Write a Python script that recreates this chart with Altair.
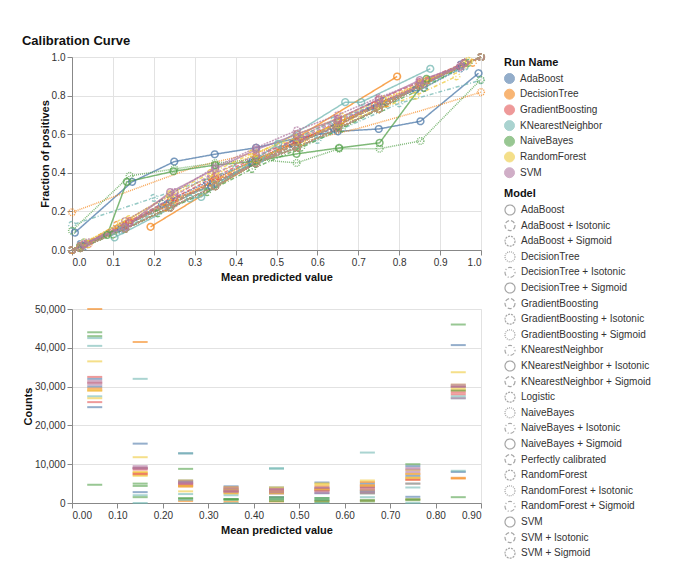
import altair as alt
import pandas as pd

RUNS = ["AdaBoost", "DecisionTree", "GradientBoosting", "KNearestNeighbor",
        "NaiveBayes", "RandomForest", "SVM"]
RUN_COLORS = ["#4c78a8", "#f58518", "#e45756", "#72b7b2", "#54a24b", "#eeca3b", "#b279a2"]

MODELS = ["AdaBoost", "AdaBoost + Isotonic", "AdaBoost + Sigmoid",
          "DecisionTree", "DecisionTree + Isotonic", "DecisionTree + Sigmoid",
          "GradientBoosting", "GradientBoosting + Isotonic", "GradientBoosting + Sigmoid",
          "KNearestNeighbor", "KNearestNeighbor + Isotonic", "KNearestNeighbor + Sigmoid",
          "Logistic", "NaiveBayes", "NaiveBayes + Isotonic", "NaiveBayes + Sigmoid",
          "Perfectly calibrated", "RandomForest", "RandomForest + Isotonic",
          "RandomForest + Sigmoid", "SVM", "SVM + Isotonic", "SVM + Sigmoid"]
DASH_PATTERNS = [[1, 0], [4, 2], [2, 1], [1, 1], [1, 2, 4, 2]]

X_TICKS_TOP = [0.0, 0.1, 0.2, 0.3, 0.4, 0.5, 0.6, 0.7, 0.8, 0.9, 1.0]
Y_TICKS_TOP = [0.0, 0.2, 0.4, 0.6, 0.8, 1.0]
X_TICKS_BOTTOM = [0.0, 0.1, 0.2, 0.3, 0.4, 0.5, 0.6, 0.7, 0.8, 0.9]
Y_TICKS_BOTTOM = [0, 10000, 20000, 30000, 40000, 50000]

PERFECT = ([0.0, 1.0], [0.0, 1.0])
LOGISTIC = ([0.02, 0.13, 0.24, 0.35, 0.45, 0.55, 0.65, 0.75, 0.85, 0.96],
            [0.01, 0.11, 0.22, 0.33, 0.45, 0.53, 0.63, 0.73, 0.85, 0.97])

ADABOOST = {
    "AdaBoost": ([0.007, 0.147, 0.25, 0.349, 0.45, 0.55, 0.65, 0.75, 0.852, 0.994],
                 [0.09, 0.353, 0.458, 0.496, 0.53, 0.58, 0.615, 0.627, 0.667, 0.916]),
    "AdaBoost + Isotonic": ([0.02, 0.13, 0.24, 0.34, 0.44, 0.54, 0.64, 0.73, 0.84, 0.95],
                            [0.03, 0.12, 0.26, 0.33, 0.45, 0.55, 0.63, 0.74, 0.83, 0.96]),
    "AdaBoost + Sigmoid": ([0.03, 0.12, 0.22, 0.33, 0.44, 0.55, 0.65, 0.76, 0.86, 0.95],
                           [0.02, 0.11, 0.24, 0.35, 0.46, 0.56, 0.66, 0.77, 0.84, 0.94]),
}
DECISIONTREE = {
    "DecisionTree": ([0.0, 0.12, 0.3, 0.5, 0.7, 0.85, 1.0],
                     [0.195, 0.29, 0.43, 0.53, 0.63, 0.72, 0.818]),
    "DecisionTree + Isotonic": ([0.0, 0.11, 0.23, 0.34, 0.45, 0.55, 0.66, 0.77, 0.87, 0.98],
                                [0.0, 0.13, 0.22, 0.35, 0.47, 0.56, 0.67, 0.76, 0.88, 0.97]),
    "DecisionTree + Sigmoid": ([0.192, 0.795], [0.12, 0.899]),
}
GRADIENTBOOSTING = {
    "GradientBoosting": ([0.02, 0.14, 0.25, 0.35, 0.45, 0.55, 0.65, 0.75, 0.85, 0.96],
                         [0.02, 0.15, 0.27, 0.38, 0.48, 0.58, 0.68, 0.78, 0.87, 0.97]),
    "GradientBoosting + Isotonic": ([0.03, 0.13, 0.24, 0.35, 0.45, 0.55, 0.65, 0.74, 0.85, 0.96],
                                    [0.03, 0.13, 0.25, 0.36, 0.45, 0.56, 0.66, 0.75, 0.86, 0.97]),
    "GradientBoosting + Sigmoid": ([0.04, 0.14, 0.25, 0.35, 0.45, 0.55, 0.65, 0.75, 0.85, 0.95],
                                   [0.03, 0.14, 0.24, 0.37, 0.47, 0.57, 0.64, 0.76, 0.85, 0.95]),
}
KNEARESTNEIGHBOR = {
    "KNearestNeighbor": ([0.0, 0.2, 0.4, 0.6, 0.8, 1.0],
                         [0.13, 0.27, 0.42, 0.57, 0.76, 0.88]),
    "KNearestNeighbor + Isotonic": ([0.104, 0.288, 0.316, 0.504, 0.668, 0.707, 0.876],
                                    [0.065, 0.267, 0.275, 0.55, 0.766, 0.766, 0.939]),
    "KNearestNeighbor + Sigmoid": ([0.03, 0.12, 0.24, 0.35, 0.46, 0.55, 0.64, 0.75, 0.86, 0.96],
                                   [0.04, 0.1, 0.24, 0.34, 0.47, 0.58, 0.67, 0.76, 0.85, 0.95]),
}
NAIVEBAYES = {
    "NaiveBayes": ([0.0, 0.141, 0.25, 0.35, 0.45, 0.549, 0.653, 0.752, 0.852, 0.999],
                   [0.1, 0.384, 0.42, 0.45, 0.47, 0.451, 0.525, 0.525, 0.565, 0.882]),
    "NaiveBayes + Isotonic": ([0.02, 0.1, 0.21, 0.33, 0.44, 0.56, 0.66, 0.76, 0.86, 0.97],
                              [0.01, 0.08, 0.19, 0.3, 0.42, 0.53, 0.63, 0.74, 0.84, 0.97]),
    "NaiveBayes + Sigmoid": ([0.02, 0.086, 0.134, 0.248, 0.35, 0.45, 0.549, 0.653, 0.752, 0.867],
                             [0.02, 0.078, 0.353, 0.408, 0.44, 0.46, 0.498, 0.529, 0.555, 0.887]),
}
RANDOMFOREST = {
    "RandomForest": ([0.02, 0.12, 0.24, 0.35, 0.45, 0.55, 0.66, 0.76, 0.86, 0.97],
                     [0.02, 0.14, 0.28, 0.39, 0.5, 0.6, 0.69, 0.78, 0.87, 0.98]),
    "RandomForest + Isotonic": ([0.03, 0.13, 0.25, 0.35, 0.45, 0.56, 0.65, 0.75, 0.85, 0.96],
                                [0.04, 0.15, 0.26, 0.36, 0.47, 0.56, 0.66, 0.75, 0.86, 0.96]),
    "RandomForest + Sigmoid": ([0.04, 0.14, 0.24, 0.34, 0.44, 0.55, 0.65, 0.75, 0.84, 0.94],
                               [0.03, 0.16, 0.29, 0.4, 0.5, 0.58, 0.65, 0.73, 0.8, 0.9]),
}
SVM = {
    "SVM": ([0.03, 0.13, 0.24, 0.35, 0.45, 0.55, 0.65, 0.75, 0.85, 0.95],
            [0.03, 0.12, 0.3, 0.42, 0.52, 0.6, 0.68, 0.78, 0.88, 0.95]),
    "SVM + Isotonic": ([0.02, 0.14, 0.25, 0.34, 0.45, 0.56, 0.65, 0.75, 0.86, 0.96],
                       [0.02, 0.14, 0.28, 0.39, 0.49, 0.58, 0.67, 0.76, 0.86, 0.97]),
    "SVM + Sigmoid": ([0.04, 0.13, 0.25, 0.35, 0.45, 0.55, 0.65, 0.75, 0.85, 0.95],
                      [0.04, 0.15, 0.3, 0.43, 0.53, 0.62, 0.7, 0.79, 0.87, 0.96]),
}
ENDPOINT_MARKERS_ONLY = ["DecisionTree"]

COUNT_BINS = [0.05, 0.15, 0.25, 0.35, 0.45, 0.55, 0.65, 0.75, 0.85]
COUNTS = {
    ("AdaBoost", "AdaBoost"): [24700, 15300, 12800, 4300, 4000, 5300, 5000, 9500, 8000],
    ("AdaBoost", "AdaBoost + Isotonic"): [30000, 2800, 5800, 3500, 2500, 3800, 4000, 7000, 40700],
    ("AdaBoost", "AdaBoost + Sigmoid"): [32000, 9000, 5400, 3000, 1500, 2500, 3000, 1600, 30000],
    ("DecisionTree", "DecisionTree"): [50000, 41500, 500, 300, 400, 500, 600, 900, 6300],
    ("DecisionTree", "DecisionTree + Isotonic"): [29500, 7800, 4500, 3000, 3000, 3200, 4500, 6500, 29000],
    ("DecisionTree", "DecisionTree + Sigmoid"): [29000, 7300, 4200, 2500, 3500, 4300, 5400, 6000, 6500],
    ("GradientBoosting", "GradientBoosting"): [31000, 8600, 5000, 3500, 3000, 3800, 4000, 6000, 30000],
    ("GradientBoosting", "GradientBoosting + Isotonic"): [26000, 9000, 4500, 3000, 2500, 3200, 3500, 5000, 28500],
    ("GradientBoosting", "GradientBoosting + Sigmoid"): [32500, 7500, 5000, 4000, 3500, 3500, 4500, 7500, 28000],
    ("KNearestNeighbor", "KNearestNeighbor"): [42500, 0, 12800, 0, 8800, 0, 13000, 0, 8300],
    ("KNearestNeighbor", "KNearestNeighbor + Isotonic"): [40500, 2000, 2300, 1000, 9000, 800, 3000, 4000, 27500],
    ("KNearestNeighbor", "KNearestNeighbor + Sigmoid"): [27500, 32000, 800, 2000, 1000, 1300, 1500, 5000, 27000],
    ("NaiveBayes", "NaiveBayes"): [44000, 5000, 8800, 1000, 1000, 800, 800, 1000, 46000],
    ("NaiveBayes", "NaiveBayes + Isotonic"): [43000, 4400, 1200, 800, 1500, 1300, 2500, 10000, 29000],
    ("NaiveBayes", "NaiveBayes + Sigmoid"): [4700, 1500, 1200, 1000, 500, 300, 400, 700, 1500],
    ("RandomForest", "RandomForest"): [36500, 11800, 3000, 4000, 4000, 5000, 5800, 8500, 33700],
    ("RandomForest", "RandomForest + Isotonic"): [27000, 8000, 5800, 3500, 3000, 4800, 4500, 7500, 29500],
    ("RandomForest", "RandomForest + Sigmoid"): [29000, 7000, 4400, 2500, 2500, 3500, 3300, 6500, 30500],
    ("SVM", "SVM"): [31500, 9500, 5600, 3200, 3300, 3000, 2800, 8000, 30500],
    ("SVM", "SVM + Isotonic"): [30500, 9100, 5200, 2800, 2800, 2600, 2500, 9000, 30000],
    ("SVM", "SVM + Sigmoid"): [31000, 8800, 5000, 3800, 3600, 4000, 3300, 8600, 27000],
}

# ---- build tables ----
RUN_CURVES = {"AdaBoost": ADABOOST, "DecisionTree": DECISIONTREE,
              "GradientBoosting": GRADIENTBOOSTING, "KNearestNeighbor": KNEARESTNEIGHBOR,
              "NaiveBayes": NAIVEBAYES, "RandomForest": RANDOMFOREST, "SVM": SVM}
rows = []
for run in RUNS:
    curves = {"Perfectly calibrated": PERFECT, "Logistic": LOGISTIC}
    curves.update(RUN_CURVES[run])
    for model, (xs, ys) in curves.items():
        n = len(xs)
        for i, (xv, yv) in enumerate(zip(xs, ys)):
            marker = True
            if model in ENDPOINT_MARKERS_ONLY and 0 < i < n - 1:
                marker = False
            rows.append({"run": run, "model": model, "x": xv, "y": yv,
                         "order": i, "marker": marker})
curve_df = pd.DataFrame(rows)

crows = []
for (run, model), vals in COUNTS.items():
    for b, c in zip(COUNT_BINS, vals):
        crows.append({"run": run, "model": model, "bin": b, "count": c})
count_df = pd.DataFrame(crows)

dash_range = [DASH_PATTERNS[i % len(DASH_PATTERNS)] for i in range(len(MODELS))]

color_enc = alt.Color(
    "run:N", scale=alt.Scale(domain=RUNS, range=RUN_COLORS),
    legend=alt.Legend(title="Run Name", symbolType="circle", symbolSize=100,
                      symbolOpacity=0.6, symbolStrokeWidth=1, rowPadding=0.7),
)
dash_enc = alt.StrokeDash(
    "model:N", scale=alt.Scale(domain=MODELS, range=dash_range),
    legend=alt.Legend(title="Model", symbolType="circle", symbolSize=100,
                      symbolStrokeColor="#888888", symbolFillColor="transparent",
                      symbolStrokeWidth=1.2, rowPadding=-0.4),
)

x_top = alt.X("x:Q", scale=alt.Scale(domain=[0, 1], nice=False),
              axis=alt.Axis(title="Mean predicted value", values=X_TICKS_TOP, format=".1f"))
y_top = alt.Y("y:Q", scale=alt.Scale(domain=[0, 1], nice=False),
              axis=alt.Axis(title="Fraction of positives", values=Y_TICKS_TOP, format=".1f",
                            titlePadding=1))

base = alt.Chart(curve_df)
lines = base.mark_line(strokeWidth=1.5, opacity=0.75).encode(
    x=x_top, y=y_top, color=color_enc, strokeDash=dash_enc, order="order:Q")
points = base.transform_filter("datum.marker").mark_point(
    filled=False, size=45, strokeWidth=1.5, opacity=0.75).encode(
    x=x_top, y=y_top, color=color_enc, strokeDash=dash_enc)
top = alt.layer(lines, points).properties(width=409, height=193)

bottom = alt.Chart(count_df).mark_tick(orient="horizontal", size=15, thickness=2, opacity=0.6).encode(
    x=alt.X("bin:Q", scale=alt.Scale(domain=[0, 0.9], nice=False),
            axis=alt.Axis(title="Mean predicted value", values=X_TICKS_BOTTOM, format=".2f", grid=False)),
    y=alt.Y("count:Q", scale=alt.Scale(domain=[0, 50000], nice=False),
            axis=alt.Axis(title="Counts", format=",d", values=Y_TICKS_BOTTOM, titlePadding=1)),
    color=color_enc,
).properties(width=409, height=194)

chart = alt.vconcat(top, bottom, spacing=20).resolve_scale(color="shared").properties(
    title=alt.Title("Calibration Curve", anchor="start", fontSize=13, fontWeight="bold",
                    font="Liberation Sans", color="#111", offset=2),
    padding={"left": 13, "top": 27, "right": 5, "bottom": 5},
).configure(font="Liberation Sans").configure_axis(
    labelFontSize=10, titleFontSize=11, titleFontWeight="bold", labelColor="#333",
    titleColor="#111", gridColor="#e2e2e2", domainColor="#888", tickColor="#888",
).configure_legend(
    labelFontSize=10, titleFontSize=11, labelColor="#333", titleColor="#111",
    offset=16, labelOffset=5,
).configure_view(stroke="#e2e2e2")

chart.save("out.html", embed_options={"renderer": "svg", "actions": False})
